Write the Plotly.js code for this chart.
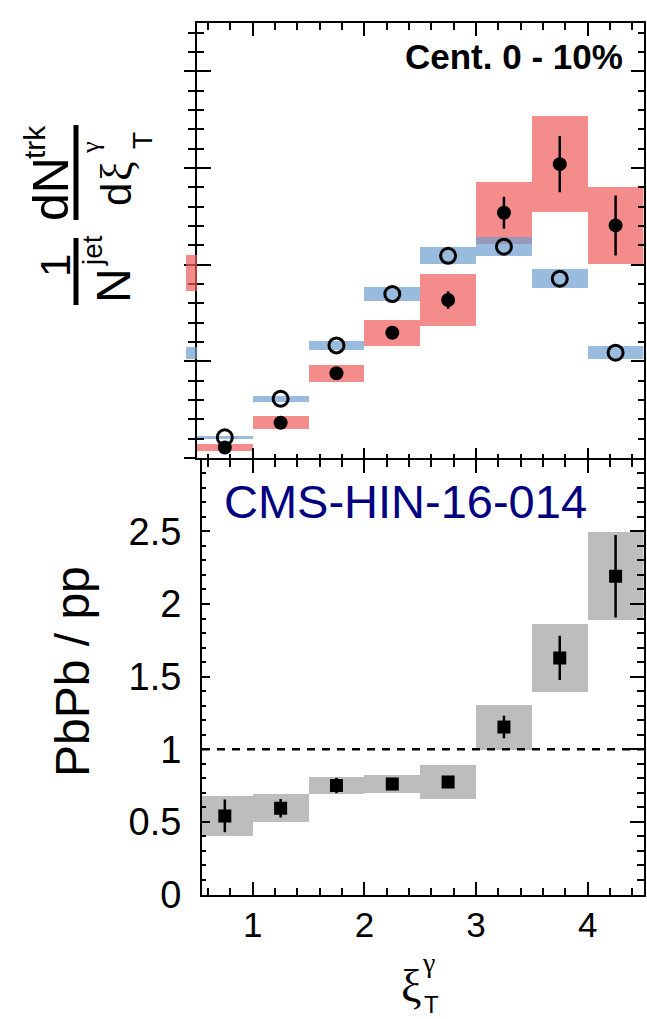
<!DOCTYPE html>
<html><head><meta charset="utf-8">
<script src="https://cdn.plot.ly/plotly-3.0.1.min.js"></script>
<style>html,body{margin:0;padding:0;background:#fff;overflow:hidden}</style>
</head><body><div id="chart" style="width:647px;height:1019px"></div>
<script>
// ---- data ----
const binCenters = [0.75, 1.25, 1.75, 2.25, 2.75, 3.25, 3.75, 4.25];
const binWidth = 0.5;
const pbpbValues = [0.108, 0.365, 0.876, 1.296, 1.634, 2.537, 3.04, 2.406];
const pbpbStat   = [0.02, 0.03, 0.03, 0.04, 0.09, 0.165, 0.29, 0.31];
const pbpbSys    = [0.036, 0.065, 0.085, 0.135, 0.27, 0.32, 0.5, 0.4];
const ppValues   = [0.214, 0.613, 1.165, 1.696, 2.092, 2.186, 1.855, 1.089];
const ppSys      = [0.015, 0.03, 0.05, 0.072, 0.09, 0.10, 0.098, 0.065];
const ratioValues = [0.541, 0.594, 0.75, 0.76, 0.774, 1.153, 1.629, 2.192];
const ratioStat   = [0.113, 0.063, 0.053, 0.03, 0.03, 0.078, 0.152, 0.284];
const ratioSys    = [0.135, 0.095, 0.058, 0.064, 0.116, 0.155, 0.233, 0.305];
// sliver of the neighbouring panel's last bin visible at the left edge
const neighbourBin = [4.25];
const neighbourPbPb = [1.915], neighbourPbPbSys = [0.185];
const neighbourPP = [1.086], neighbourPPSys = [0.065];
const ratioTickVals = [0, 0.5, 1, 1.5, 2, 2.5];
const ratioTickText = ['0', '0.5', '1', '1.5', '2', '2.5'];
const xTickVals = [1, 2, 3, 4];
const xTickText = ['1', '2', '3', '4'];
const centLabel = 'Cent. 0 - 10%';
const cmsLabel = 'CMS-HIN-16-014';
const ratioTitle = 'PbPb / pp';

// ---- layout helpers ----
const W = 647, H = 1019;
const px = v => v / W, py = v => 1 - v / H;
const SANS = 'Liberation Sans, Arial, Helvetica, sans-serif';
const SERIF = 'Liberation Serif, Times New Roman, serif';
const RED = 'rgba(239,91,91,0.7)';
const BLUE = 'rgba(109,158,208,0.7)';
const GRAY = '#bdbdbd';

const lows = (v, e) => v.map((x, i) => x - e[i]);
const twice = e => e.map(x => 2 * x);
const widths = binCenters.map(() => binWidth);

const traces = [
  {type:'bar', x:binCenters, y:twice(pbpbSys), base:lows(pbpbValues,pbpbSys), width:widths,
   marker:{color:RED, line:{width:0}}, xaxis:'x', yaxis:'y', hoverinfo:'skip'},
  {type:'bar', x:binCenters, y:twice(ppSys), base:lows(ppValues,ppSys), width:widths,
   marker:{color:BLUE, line:{width:0}}, xaxis:'x', yaxis:'y', hoverinfo:'skip'},
  {type:'scatter', mode:'markers', x:binCenters, y:ppValues,
   marker:{symbol:'circle-open', size:15, color:'#000', line:{width:3, color:'#000'}},
   xaxis:'x', yaxis:'y', hoverinfo:'skip'},
  {type:'scatter', mode:'markers', x:binCenters, y:pbpbValues,
   error_y:{type:'data', array:pbpbStat, color:'#000', thickness:2.5, width:0},
   marker:{symbol:'circle', size:14, color:'#000'},
   xaxis:'x', yaxis:'y', hoverinfo:'skip'},
  // neighbour sliver
  {type:'bar', x:neighbourBin, y:twice(neighbourPbPbSys), base:lows(neighbourPbPb,neighbourPbPbSys), width:[binWidth],
   marker:{color:RED, line:{width:0}}, xaxis:'x5', yaxis:'y', hoverinfo:'skip'},
  {type:'bar', x:neighbourBin, y:twice(neighbourPPSys), base:lows(neighbourPP,neighbourPPSys), width:[binWidth],
   marker:{color:BLUE, line:{width:0}}, xaxis:'x5', yaxis:'y', hoverinfo:'skip'},
  // ratio
  {type:'bar', x:binCenters, y:twice(ratioSys), base:lows(ratioValues,ratioSys), width:widths,
   marker:{color:GRAY, line:{width:0}}, xaxis:'x2', yaxis:'y2', hoverinfo:'skip'}
];
// empty traces that create the tick-only overlay axes
[['x3','y'],['x4','y'],['x6','y'],['x','y3'],['x','y4'],['x','y6'],['x','y7'],['x','y8'],
 ['x7','y2'],['x2','y5'],['x2','y9'],['x2','y10']].forEach(p => traces.push(
  {type:'scatter', x:[], y:[], xaxis:p[0], yaxis:p[1], hoverinfo:'skip'}));
traces.push({type:'scatter', mode:'markers', x:binCenters, y:ratioValues,
   error_y:{type:'data', array:ratioStat, color:'#000', thickness:2.5, width:0},
   marker:{symbol:'square', size:13, color:'#000'},
   xaxis:'x2', yaxis:'y2', hoverinfo:'skip'});

const base = {showgrid:false, zeroline:false, fixedrange:true, tickcolor:'#000', tickwidth:2,
  linecolor:'#000', linewidth:2, showticklabels:false};
function tickAxis(extra) { return Object.assign({}, base, extra); }

const topDomY = [py(458), py(23)];
const botDomY = [py(894.5), py(459.5)];
const topDomX = [px(196.9), px(643.5)];
const botDomX = [px(202), px(643.5)];
const botXStart = 0.5 + (202 - 196.9) / ((643.5 - 196.9) / 4);
const topX = [0.5, 4.5], topY = [0, 4.5], botX = [botXStart, 4.5], botY = [0, 2.995];

const layout = {
  width:W, height:H, autosize:false,
  margin:{l:0, r:0, t:0, b:0, pad:0},
  paper_bgcolor:'#fff', plot_bgcolor:'rgba(0,0,0,0)',
  showlegend:false, barmode:'overlay', bargap:0,
  font:{family:SANS, color:'#000'},
  // top panel x axes
  xaxis:  tickAxis({domain:topDomX, range:topX, anchor:'y', showline:true, ticks:'inside', ticklen:10, tick0:0, dtick:1}),
  xaxis4: tickAxis({overlaying:'x', side:'bottom', anchor:'y', range:topX, ticks:'inside', ticklen:4, tick0:0, dtick:0.2}),
  xaxis3: tickAxis({overlaying:'x', side:'top', anchor:'y', range:topX, showline:true, ticks:'inside', ticklen:13, tick0:0, dtick:1}),
  xaxis6: tickAxis({overlaying:'x', side:'top', anchor:'y', range:topX, ticks:'inside', ticklen:7, tick0:0, dtick:0.2}),
  xaxis5: tickAxis({domain:[px(186), px(196.9)], range:[4.4,4.5], anchor:'y', visible:false}),
  // top panel y axes
  yaxis:  tickAxis({domain:topDomY, range:topY, anchor:'x', showline:true, ticks:'inside', ticklen:14, tick0:0, dtick:1}),
  yaxis6: tickAxis({overlaying:'y', side:'left', anchor:'x', range:topY, ticks:'inside', ticklen:7, tick0:0, dtick:0.2}),
  yaxis3: tickAxis({overlaying:'y', side:'right', anchor:'x', range:topY, showline:true, ticks:'inside', ticklen:13, tick0:0, dtick:1}),
  yaxis7: tickAxis({overlaying:'y', side:'right', anchor:'x', range:topY, ticks:'inside', ticklen:6, tick0:0, dtick:0.2}),
  yaxis4: tickAxis({overlaying:'y', side:'left', anchor:'x', range:topY, ticks:'outside', ticklen:11, tick0:0, dtick:1}),
  yaxis8: tickAxis({overlaying:'y', side:'left', anchor:'x', range:topY, ticks:'outside', ticklen:7, tick0:0, dtick:0.2}),
  // bottom panel
  xaxis2: tickAxis({domain:botDomX, range:botX, anchor:'y2', showline:true, mirror:'ticks', ticks:'inside', ticklen:13,
    tickvals:xTickVals, ticktext:xTickText, showticklabels:true, tickfont:{size:35, family:SANS}, ticklabelstandoff:-2}),
  xaxis7: tickAxis({overlaying:'x2', anchor:'y2', range:botX, mirror:'ticks', ticks:'inside', ticklen:7, tick0:0, dtick:0.2}),
  yaxis2: tickAxis({domain:botDomY, range:botY, anchor:'x2', showline:true, mirror:true, ticks:'inside', ticklen:8,
    tickvals:ratioTickVals, ticktext:ratioTickText, showticklabels:true, tickfont:{size:38, family:SANS}, ticklabelstandoff:11}),
  yaxis9: tickAxis({overlaying:'y2', side:'left', anchor:'x2', range:botY, ticks:'inside', ticklen:4, tick0:0, dtick:0.1}),
  yaxis5: tickAxis({overlaying:'y2', side:'right', anchor:'x2', range:botY, ticks:'inside', ticklen:14, tick0:0, dtick:0.5}),
  yaxis10: tickAxis({overlaying:'y2', side:'right', anchor:'x2', range:botY, ticks:'inside', ticklen:7, tick0:0, dtick:0.1}),
  shapes: [
    {type:'line', xref:'x2 domain', x0:0, x1:1, yref:'y2', y0:1, y1:1,
     line:{color:'#000', width:2.5, dash:'8px,7px'}},
    // fraction bars of the y-axis title
    {type:'line', xref:'paper', yref:'paper', x0:px(76), x1:px(76), y0:py(238), y1:py(305), line:{color:'#000', width:5}},
    {type:'line', xref:'paper', yref:'paper', x0:px(76), x1:px(76), y0:py(125), y1:py(220), line:{color:'#000', width:5}}
  ],
  annotations: []
};

function ann(text, x, y, size, opts) {
  layout.annotations.push(Object.assign({text:text, xref:'paper', yref:'paper', x:px(x), y:py(y),
    xanchor:'center', yanchor:'middle', showarrow:false, font:{size:size, family:SANS, color:'#000'}}, opts || {}));
}
ann('<b>' + centLabel + '</b>', 514, 56, 35);
ann(cmsLabel, 405, 501, 47, {font:{size:47, family:SANS, color:'#000080'}});
ann(ratioTitle, 72, 672, 48, {textangle:-90});
// x-axis title  ξ_T^γ
ann('ξ', 411, 986, 46, {font:{size:46, family:SERIF, color:'#000'}});
ann('γ', 428, 962, 28, {font:{size:28, family:SERIF, color:'#000'}});
ann('T', 431, 1004, 24);
// y-axis title of top panel (rotated):  1/N^jet  dN^trk/dξ_T^γ
ann('1', 55, 266, 42, {textangle:-90});
ann('N', 113, 285, 48, {textangle:-90});
ann('jet', 92, 251, 28, {textangle:-90});
ann('dN', 51, 189, 50, {textangle:-90});
ann('trk', 34, 142, 30, {textangle:-90});
ann('d', 116, 195, 42, {textangle:-90});
ann('ξ', 117, 171, 44, {textangle:-90, font:{size:44, family:SERIF, color:'#000'}});
ann('γ', 90, 148, 26, {textangle:-90, font:{size:26, family:SERIF, color:'#000'}});
ann('T', 143, 141, 28, {textangle:-90});

Plotly.newPlot('chart', traces, layout, {staticPlot:true, displayModeBar:false});
</script>
</body></html>
